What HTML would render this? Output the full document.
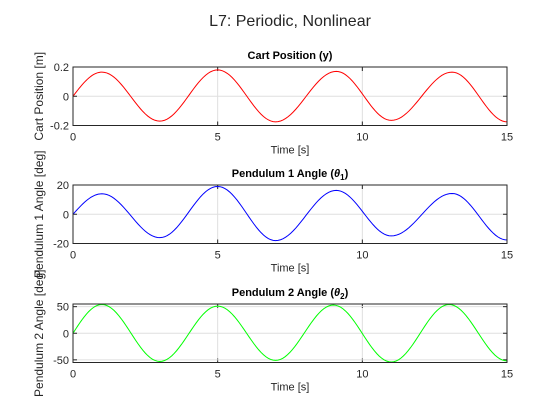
<!DOCTYPE html>
<html><head><meta charset="utf-8"><style>
body{margin:0;background:#fff;}
svg{display:block;font-family:"Liberation Sans",sans-serif;}
</style></head><body>
<svg id="c" width="560" height="420">
<rect width="560" height="420" fill="#fff"/>
<text x="290" y="26" text-anchor="middle" font-size="16" fill="#262626">L7: Periodic, Nonlinear</text>
</svg>
<script>
const xTicks=[0,5,10,15];
const cartTimes=[0,1,3,5,7,9.1,11,13.1,15];
const cartVals=[0,0.165,-0.17,0.18,-0.175,0.17,-0.165,0.165,-0.175];
const cartTicks=[-0.2,0,0.2];
const cartTickLabels=["-0.2","0","0.2"];
const p1Times=[0,1,3,5,7,9.1,11,13.1,15];
const p1Vals=[0,14,-16,19,-18,16.3,-14.8,14.2,-17.6];
const p1Ticks=[-20,0,20];
const p1TickLabels=["-20","0","20"];
const p2Times=[0,1,3,5,7,9,11,13,15];
const p2Vals=[0,54,-53,51,-51,53,-54,54,-52];
const p2Ticks=[-50,0,50];
const p2TickLabels=["-50","0","50"];

const svg=document.getElementById('c');
const NS='http://www.w3.org/2000/svg';
function mk(tag,attrs,parent){const e=document.createElementNS(NS,tag);for(const k in attrs)e.setAttribute(k,attrs[k]);(parent||svg).appendChild(e);return e;}

function panel(cfg){
  const L=73,R=507,T=cfg.top,B=cfg.top+58.5;
  const sx=v=>L+(v-0)/(15-0)*(R-L);
  const sy=v=>B-(v-cfg.ylim[0])/(cfg.ylim[1]-cfg.ylim[0])*(B-T);
  const g=mk('g',{});
  
  
  mk('rect',{x:L,y:T,width:R-L,height:B-T,fill:'#fff'},g);
  xTicks.forEach(t=>{
    const l=mk('line',{x1:sx(t),x2:sx(t),y1:T,y2:B,stroke:'#dfdfdf','stroke-width':1},g);
    
    
    mk('line',{x1:sx(t),x2:sx(t),y1:B,y2:B-4,stroke:'#262626'},g);
    mk('line',{x1:sx(t),x2:sx(t),y1:T,y2:T+4,stroke:'#262626'},g);
    const tx=mk('text',{x:sx(t),y:B+15,'text-anchor':'middle','font-size':11,fill:'#262626'},g);
    tx.textContent=t;
    
    
  });
  cfg.ticks.forEach((t,i)=>{
    const l=mk('line',{x1:L,x2:R,y1:sy(t),y2:sy(t),stroke:'#dfdfdf','stroke-width':1},g);
    
    
    mk('line',{x1:L,x2:L+4,y1:sy(t),y2:sy(t),stroke:'#262626'},g);
    mk('line',{x1:R,x2:R-4,y1:sy(t),y2:sy(t),stroke:'#262626'},g);
    const tx=mk('text',{x:L-4,y:sy(t)+4,'text-anchor':'end','font-size':11,fill:'#262626'},g);
    tx.textContent=cfg.labels[i];
    
    
  });
  let d='';
  for(let i=0;i<cfg.times.length-1;i++){
    const t0=cfg.times[i],t1=cfg.times[i+1],v0=cfg.vals[i],v1=cfg.vals[i+1];
    for(let k=0;k<=24;k++){
      const f=k/24,t=t0+(t1-t0)*f;
      let v;
      if(i===0) v=v0+(v1-v0)*Math.sin(Math.PI/2*f);
      else v=v0+(v1-v0)*(1-Math.cos(Math.PI*f))/2;
      d+=(d?'L':'M')+sx(t).toFixed(2)+','+sy(v).toFixed(2);
    }
  }
  const p=mk('path',{d:d,fill:'none',stroke:cfg.color,'stroke-width':1},g);
  
  
  mk('rect',{x:L,y:T,width:R-L,height:B-T,fill:'none',stroke:'#262626','stroke-width':1},g);
  const ti=mk('text',{x:(L+R)/2,y:T-8,'text-anchor':'middle','font-size':11,'font-weight':'bold',fill:'#000'},g);
  ti.innerHTML=cfg.title;
  
  
  const xl=mk('text',{x:(L+R)/2,y:B+28,'text-anchor':'middle','font-size':11,fill:'#262626'},g);
  xl.textContent='Time [s]';
  
  
  const yc=(T+B)/2;
  const yl=mk('text',{x:0,y:0,'text-anchor':'middle','font-size':12,fill:'#262626',transform:`translate(${cfg.ylx},${yc}) rotate(-90)`},g);
  yl.textContent=cfg.ylabel;
  
  
}
panel({name:'cart-position',top:67,ylim:[-0.2,0.2],ticks:cartTicks,labels:cartTickLabels,times:cartTimes,vals:cartVals,color:'#ff0000',title:'Cart Position (y)',ylabel:'Cart Position [m]',ylx:43});
panel({name:'pendulum-1',top:185,ylim:[-20,20],ticks:p1Ticks,labels:p1TickLabels,times:p1Times,vals:p1Vals,color:'#0000ff',title:'Pendulum 1 Angle (<tspan font-style="italic">θ</tspan><tspan font-size="8" dy="3">1</tspan><tspan dy="-3">)</tspan>',ylabel:'Pendulum 1 Angle [deg]',ylx:43});
panel({name:'pendulum-2',top:304,ylim:[-55,55],ticks:p2Ticks,labels:p2TickLabels,times:p2Times,vals:p2Vals,color:'#00ff00',title:'Pendulum 2 Angle (<tspan font-style="italic">θ</tspan><tspan font-size="8" dy="3">2</tspan><tspan dy="-3">)</tspan>',ylabel:'Pendulum 2 Angle [deg]',ylx:43});
</script>
</body></html>
